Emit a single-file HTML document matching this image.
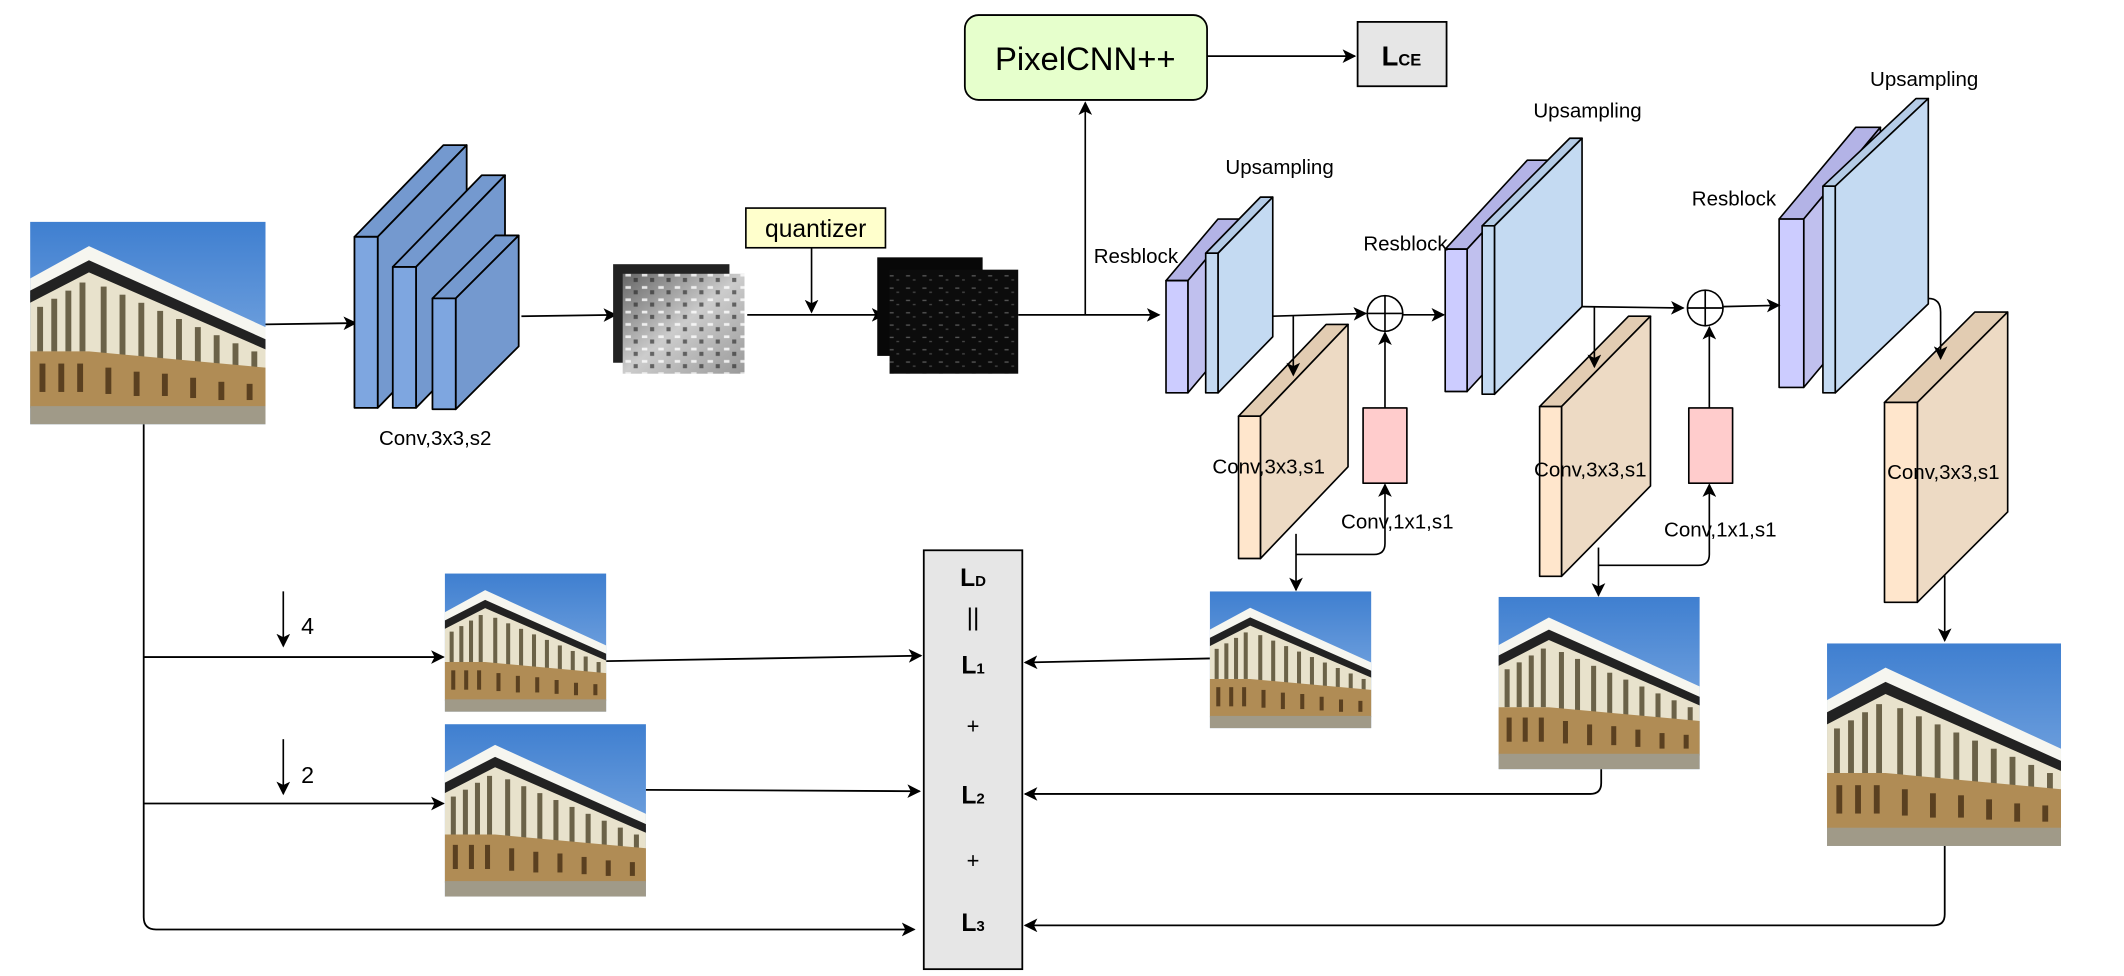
<!DOCTYPE html>
<html><head><meta charset="utf-8"><style>
html,body{margin:0;padding:0;background:#fff;}
svg{display:block;}
text{font-family:"Liberation Sans",sans-serif;fill:#000;}
</style></head><body>
<svg width="2124" height="976" viewBox="0 0 1552 713" preserveAspectRatio="none" xmlns="http://www.w3.org/2000/svg">
<defs>
<marker id="a" markerUnits="userSpaceOnUse" markerWidth="10" markerHeight="10" viewBox="0 0 10 10" refX="9" refY="5" orient="auto">
<path d="M0,0 L10,5 L0,10 L2.5,5 Z" fill="#000"/></marker>
<linearGradient id="sky" x1="0" y1="0" x2="0" y2="1"><stop offset="0" stop-color="#3f7fd0"/><stop offset="1" stop-color="#8fb6e6"/></linearGradient>
<symbol id="photo" viewBox="0 0 100 100" preserveAspectRatio="none">
<rect width="100" height="100" fill="url(#sky)"/>
<polygon points="0,38 25,22 100,62 100,90 25,90 0,90" fill="#e8e2cc"/>
<polygon points="0,28 25,12 100,52 100,60 25,20 0,36" fill="#f6f6f0"/>
<polygon points="0,34 25,19 100,58 100,63 25,25 0,40" fill="#222"/>
<g fill="#6b6248">
<rect x="3" y="42" width="2.5" height="22"/><rect x="9" y="38" width="2.5" height="26"/><rect x="15" y="34" width="2.5" height="30"/><rect x="21" y="30" width="2.5" height="34"/><rect x="30" y="32" width="2.5" height="33"/><rect x="38" y="36" width="2.5" height="30"/><rect x="46" y="40" width="2.5" height="27"/><rect x="54" y="44" width="2.5" height="24"/><rect x="62" y="48" width="2.5" height="21"/><rect x="70" y="52" width="2.5" height="18"/><rect x="78" y="56" width="2.5" height="15"/><rect x="86" y="60" width="2.5" height="12"/><rect x="94" y="64" width="2.5" height="9"/>
</g>
<polygon points="0,64 25,64 100,72 100,92 0,92" fill="#b08c55"/>
<g fill="#5a4020"><rect x="4" y="70" width="2.5" height="14"/><rect x="12" y="70" width="2.5" height="14"/><rect x="20" y="70" width="2.5" height="14"/><rect x="32" y="72" width="2.5" height="13"/><rect x="44" y="74" width="2.5" height="12"/><rect x="56" y="75" width="2.5" height="11"/><rect x="68" y="77" width="2.5" height="10"/><rect x="80" y="79" width="2.5" height="9"/><rect x="92" y="80" width="2.5" height="8"/></g>
<rect y="91" width="100" height="9" fill="#a09a88"/>
</symbol>
<linearGradient id="gmap" x1="0" y1="0" x2="1" y2="1"><stop offset="0" stop-color="#666"/><stop offset=".5" stop-color="#ccc"/><stop offset="1" stop-color="#999"/></linearGradient>
<pattern id="noise" width="12" height="9" patternUnits="userSpaceOnUse"><rect x="1" y="2" width="4" height="2" fill="#fff" opacity=".8"/><rect x="7" y="5" width="3" height="3" fill="#222" opacity=".6"/></pattern>
<pattern id="noised" width="12" height="9" patternUnits="userSpaceOnUse"><rect x="2" y="3" width="3" height="1" fill="#555"/><rect x="7" y="6" width="2" height="1" fill="#444"/></pattern>
</defs>

<use href="#photo" x="22" y="162" width="172" height="148"/>
<line x1="194" y1="237" x2="260" y2="236" stroke="#000" stroke-width="1.3" marker-end="url(#a)"/>

<g stroke="#000" stroke-width="1.3" stroke-linejoin="round">
<polygon points="259,173 276,173 341,106 324,106" fill="#7499cf"/>
<polygon points="276,173 341,106 341,231 276,298" fill="#7499cf"/>
<rect x="259" y="173" width="17" height="125" fill="#7ea6e0"/>
<polygon points="287,195 304,195 369,128 352,128" fill="#7499cf"/>
<polygon points="304,195 369,128 369,231 304,298" fill="#7499cf"/>
<rect x="287" y="195" width="17" height="103" fill="#7ea6e0"/>
<polygon points="316,218 333,218 379,172 362,172" fill="#7499cf"/>
<polygon points="333,218 379,172 379,253 333,299" fill="#7499cf"/>
<rect x="316" y="218" width="17" height="81" fill="#7ea6e0"/>
</g>
<text x="318" y="325" font-size="15" text-anchor="middle">Conv,3x3,s2</text>
<line x1="381" y1="231" x2="450" y2="230" stroke="#000" stroke-width="1.3" marker-end="url(#a)"/>

<rect x="448" y="193" width="85" height="72" fill="#222"/>
<rect x="455" y="200" width="89" height="73" fill="url(#gmap)"/>
<rect x="455" y="200" width="89" height="73" fill="url(#noise)"/>
<rect x="545" y="152" width="102" height="29" fill="#ffffcc" stroke="#000" stroke-width="1.2"/>
<text x="596" y="173" font-size="18" text-anchor="middle">quantizer</text>
<line x1="593" y1="181" x2="593" y2="228" stroke="#000" stroke-width="1.2" marker-end="url(#a)"/>
<line x1="546" y1="230" x2="646" y2="230" stroke="#000" stroke-width="1.3" marker-end="url(#a)"/>
<rect x="641" y="188" width="77" height="72" fill="#080808"/>
<rect x="650" y="197" width="94" height="76" fill="#0c0c0c"/>
<rect x="650" y="197" width="94" height="76" fill="url(#noised)"/>
<line x1="744" y1="230" x2="847" y2="230" stroke="#000" stroke-width="1.3" marker-end="url(#a)"/>
<line x1="793" y1="230" x2="793" y2="75" stroke="#000" stroke-width="1.2" marker-end="url(#a)"/>

<rect x="705" y="11" width="177" height="62" rx="10" fill="#e6ffcc" stroke="#000" stroke-width="1.3"/>
<text x="793" y="51" font-size="24" text-anchor="middle">PixelCNN++</text>
<line x1="882" y1="41" x2="990" y2="41" stroke="#000" stroke-width="1.3" marker-end="url(#a)"/>
<rect x="992" y="16" width="65" height="47" fill="#e6e6e6" stroke="#000" stroke-width="1.3"/>
<text x="1024" y="48" font-size="20" font-weight="bold" text-anchor="middle">L<tspan font-size="12">CE</tspan></text>

<g stroke="#000" stroke-width="1.2" stroke-linejoin="round">
<polygon points="852,205 868,205 906,160 890,160" fill="#b3b3e6"/>
<polygon points="868,205 906,160 906,242 868,287" fill="#c0c0ee"/>
<rect x="852" y="205" width="16" height="82" fill="#ccccff"/>
<polygon points="881,185 890,185 930,144 921,144" fill="#b4cbe6"/>
<polygon points="890,185 930,144 930,246 890,287" fill="#c4daf2"/>
<rect x="881" y="185" width="9" height="102" fill="#c4daf2"/>
<polygon points="905,304 921,304 985,237 969,237" fill="#e2ccb2"/>
<polygon points="921,304 985,237 985,341 921,408" fill="#eddac4"/>
<rect x="905" y="304" width="16" height="104" fill="#ffe6cc"/>
<rect x="996" y="298" width="32" height="55" fill="#ffcccc"/>
<polygon points="1056,182 1072,182 1132,117 1116,117" fill="#b3b3e6"/>
<polygon points="1072,182 1132,117 1132,221 1072,286" fill="#c0c0ee"/>
<rect x="1056" y="182" width="16" height="104" fill="#ccccff"/>
<polygon points="1083,165 1092,165 1156,101 1147,101" fill="#b4cbe6"/>
<polygon points="1092,165 1156,101 1156,224 1092,288" fill="#c4daf2"/>
<rect x="1083" y="165" width="9" height="123" fill="#c4daf2"/>
<polygon points="1125,297 1141,297 1206,231 1190,231" fill="#e2ccb2"/>
<polygon points="1141,297 1206,231 1206,355 1141,421" fill="#eddac4"/>
<rect x="1125" y="297" width="16" height="124" fill="#ffe6cc"/>
<rect x="1234" y="298" width="32" height="55" fill="#ffcccc"/>
<polygon points="1300,160 1318,160 1374,93 1356,93" fill="#b3b3e6"/>
<polygon points="1318,160 1374,93 1374,216 1318,283" fill="#c0c0ee"/>
<rect x="1300" y="160" width="18" height="123" fill="#ccccff"/>
<polygon points="1332,136 1341,136 1409,72 1400,72" fill="#b4cbe6"/>
<polygon points="1341,136 1409,72 1409,222 1341,287" fill="#c4daf2"/>
<rect x="1332" y="136" width="9" height="151" fill="#c4daf2"/>
<polygon points="1377,294 1401,294 1467,228 1443,228" fill="#e2ccb2"/>
<polygon points="1401,294 1467,228 1467,374 1401,440" fill="#eddac4"/>
<rect x="1377" y="294" width="24" height="146" fill="#ffe6cc"/>
</g>

<g font-size="15">
<text x="830" y="192" text-anchor="middle">Resblock</text>
<text x="935" y="127" text-anchor="middle">Upsampling</text>
<text x="1027" y="183" text-anchor="middle">Resblock</text>
<text x="1160" y="86" text-anchor="middle">Upsampling</text>
<text x="1267" y="150" text-anchor="middle">Resblock</text>
<text x="1406" y="63" text-anchor="middle">Upsampling</text>
<text x="927" y="346" text-anchor="middle">Conv,3x3,s1</text>
<text x="1162" y="348" text-anchor="middle">Conv,3x3,s1</text>
<text x="1420" y="350" text-anchor="middle">Conv,3x3,s1</text>
<text x="1021" y="386" text-anchor="middle">Conv,1x1,s1</text>
<text x="1257" y="392" text-anchor="middle">Conv,1x1,s1</text>
</g>

<g stroke="#000" stroke-width="1.2" fill="none">
<line x1="930" y1="231" x2="998" y2="229" marker-end="url(#a)"/>
<circle cx="1012" cy="229" r="13" fill="#fff"/>
<line x1="999" y1="229" x2="1025" y2="229"/><line x1="1012" y1="216" x2="1012" y2="242"/>
<line x1="1025" y1="230" x2="1055" y2="230" marker-end="url(#a)"/>
<line x1="945" y1="231" x2="945" y2="274" marker-end="url(#a)"/>
<line x1="1012" y1="298" x2="1012" y2="243" marker-end="url(#a)"/>
<path d="M947,390 L947,431" marker-end="url(#a)"/>
<path d="M947,405 L1004,405 Q1012,405 1012,397 L1012,354" marker-end="url(#a)"/>
<line x1="1156" y1="224" x2="1230" y2="225" marker-end="url(#a)"/>
<circle cx="1246" cy="225" r="13" fill="#fff"/>
<line x1="1233" y1="225" x2="1259" y2="225"/><line x1="1246" y1="212" x2="1246" y2="238"/>
<line x1="1259" y1="224" x2="1300" y2="223" marker-end="url(#a)"/>
<line x1="1165" y1="224" x2="1165" y2="268" marker-end="url(#a)"/>
<line x1="1249" y1="298" x2="1249" y2="239" marker-end="url(#a)"/>
<path d="M1168,400 L1168,435" marker-end="url(#a)"/>
<path d="M1168,413 L1241,413 Q1249,413 1249,405 L1249,354" marker-end="url(#a)"/>
<path d="M1409,218 Q1418,218 1418,228 L1418,262" marker-end="url(#a)"/>
<path d="M1421,420 L1421,468" marker-end="url(#a)"/>
</g>

<use href="#photo" x="884" y="432" width="118" height="100"/>
<use href="#photo" x="1095" y="436" width="147" height="126"/>
<use href="#photo" x="1335" y="470" width="171" height="148"/>
<use href="#photo" x="325" y="419" width="118" height="101"/>
<use href="#photo" x="325" y="529" width="147" height="126"/>

<rect x="675" y="402" width="72" height="306" fill="#e6e6e6" stroke="#000" stroke-width="1.3"/>
<g font-size="18" font-weight="bold" text-anchor="middle">
<text x="711" y="428">L<tspan font-size="11">D</tspan></text>
<text x="711" y="457" font-weight="normal">||</text>
<text x="711" y="492">L<tspan font-size="11">1</tspan></text>
<text x="711" y="536" font-weight="normal" font-size="16">+</text>
<text x="711" y="587">L<tspan font-size="11">2</tspan></text>
<text x="711" y="634" font-weight="normal" font-size="16">+</text>
<text x="711" y="680">L<tspan font-size="11">3</tspan></text>
</g>

<g stroke="#000" stroke-width="1.3" fill="none">
<path d="M105,310 L105,670 Q105,679 114,679 L668,679" marker-end="url(#a)"/>
<line x1="105" y1="480" x2="324" y2="480" marker-end="url(#a)"/>
<line x1="105" y1="587" x2="324" y2="587" marker-end="url(#a)"/>
<line x1="207" y1="432" x2="207" y2="472" stroke-width="1.2" marker-end="url(#a)"/>
<line x1="207" y1="540" x2="207" y2="580" stroke-width="1.2" marker-end="url(#a)"/>
<line x1="443" y1="483" x2="673" y2="479" marker-end="url(#a)"/>
<line x1="472" y1="577" x2="672" y2="578" marker-end="url(#a)"/>
<line x1="884" y1="481" x2="749" y2="484" marker-end="url(#a)"/>
<path d="M1170,562 L1170,572 Q1170,580 1162,580 L749,580" marker-end="url(#a)"/>
<path d="M1421,618 L1421,668 Q1421,676 1413,676 L749,676" marker-end="url(#a)"/>
</g>
<text x="220" y="463" font-size="17">4</text>
<text x="220" y="572" font-size="17">2</text>
</svg>
</body></html>
